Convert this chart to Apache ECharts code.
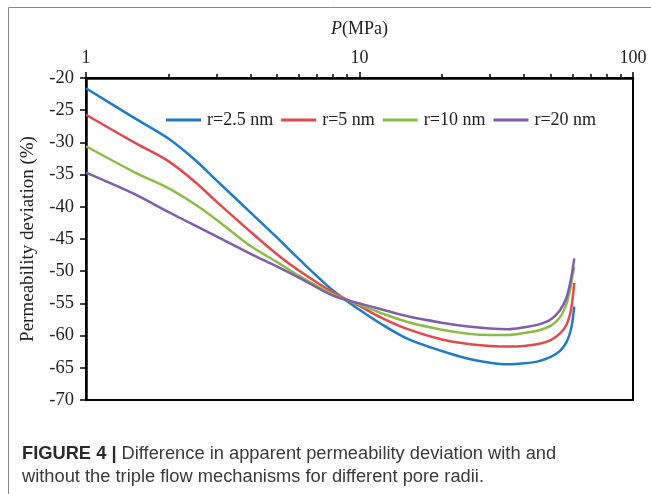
<!DOCTYPE html>
<html>
<head>
<meta charset="utf-8">
<script src="https://cdn.jsdelivr.net/npm/echarts@6/dist/echarts.min.js"></script>
<style>html,body{margin:0;padding:0;background:#fff}#c{width:651px;height:494px}</style>
</head>
<body>
<div id="c"></div>
<script>
// Pressure (MPa)
const pressure = [1, 1.5, 2, 2.5, 3, 4, 5, 6, 8, 10, 12, 15, 20, 25, 30, 35, 40, 45, 50, 54, 57, 59, 60, 61];
const r25 = [-21.6, -26.2, -29.4, -32.7, -35.9, -40.9, -44.8, -48.1, -53.0, -56.0, -58.2, -60.5, -62.4, -63.6, -64.2, -64.45, -64.3, -64.0, -63.3, -62.4, -61.1, -59.4, -57.9, -55.5];
const r5 = [-25.7, -30.0, -32.9, -36.1, -39.2, -43.9, -47.4, -49.9, -53.3, -55.4, -57.2, -59.0, -60.6, -61.3, -61.6, -61.7, -61.6, -61.3, -60.7, -59.7, -58.4, -56.5, -54.6, -51.8];
const r10 = [-30.6, -34.6, -37.1, -39.6, -42.0, -46.1, -48.6, -50.7, -53.6, -55.2, -56.5, -57.9, -59.1, -59.7, -59.9, -59.9, -59.6, -59.2, -58.5, -57.2, -55.2, -52.8, -50.9, -49.3];
const r20 = [-34.7, -38.0, -40.8, -42.9, -44.6, -47.3, -49.3, -51.0, -53.8, -55.0, -55.9, -57.0, -58.0, -58.6, -58.9, -59.0, -58.7, -58.3, -57.5, -56.1, -54.2, -51.7, -50.0, -48.0];
const seriesNames = ['r=2.5 nm', 'r=5 nm', 'r=10 nm', 'r=20 nm'];
const seriesData = [r25, r5, r10, r20];
const colors = ['#1f7bc4', '#e04a4c', '#8abd47', '#7f5fa9'];
const majorTicks = [1, 10, 100];
const minorTicks = [2, 3, 4, 5, 6, 7, 8, 9, 20, 30, 40, 50, 60, 70, 80, 90];
const yTicks = [-70, -20, 5];

const serif = '"Liberation Serif", "Times New Roman", serif';
const sans = '"Liberation Sans", Arial, sans-serif';
const chart = echarts.init(document.getElementById('c'), null, {renderer: 'canvas'});

const series = seriesData.map((d, i) => ({
  name: seriesNames[i],
  type: 'line',
  data: pressure.map((p, k) => [p, d[k]]),
  smooth: 0.3,
  symbol: 'none',
  lineStyle: {color: colors[i], width: 2.5},
  itemStyle: {color: colors[i]},
  z: 3
}));

chart.setOption({
  animation: false,
  backgroundColor: '#fff',
  grid: {left: 86, top: 78, right: 18, bottom: 94, show: true, borderColor: '#000', borderWidth: 2, backgroundColor: 'transparent'},
  legend: {
    data: seriesNames.map(n => ({name: n, icon: 'rect'})),
    left: 161, top: 106,
    itemWidth: 35, itemHeight: 3, itemGap: 8,
    textStyle: {fontFamily: serif, fontSize: 18, color: '#222', padding: [0, 0, 0, 1]}
  },
  xAxis: [{
    type: 'log', logBase: 10, min: 1, max: 100, position: 'top',
    name: '{i|P}(MPa)', nameLocation: 'middle', nameGap: 40,
    nameTextStyle: {fontFamily: serif, fontSize: 18, color: '#222', rich: {i: {fontFamily: serif, fontStyle: 'italic', fontSize: 18, color: '#222'}}},
    axisLine: {show: true, lineStyle: {color: '#000', width: 2.5}},
    axisTick: {show: true, inside: false, length: 6, lineStyle: {color: '#000', width: 1.5}, customValues: majorTicks},
    axisLabel: {fontFamily: serif, fontSize: 18, color: '#222', margin: 11, customValues: majorTicks},
    splitLine: {show: false}, minorTick: {show: false}
  }, {
    type: 'log', logBase: 10, min: 1, max: 100, position: 'top',
    axisLine: {show: false},
    axisTick: {show: true, inside: false, length: 4, lineStyle: {color: '#000', width: 1.5}, customValues: minorTicks},
    axisLabel: {show: false},
    splitLine: {show: false}
  }],
  yAxis: {
    type: 'value', min: yTicks[0], max: yTicks[1], interval: yTicks[2],
    name: 'Permeability deviation (%)', nameLocation: 'middle', nameGap: 48,
    nameTextStyle: {fontFamily: serif, fontSize: 19, color: '#222'},
    axisLine: {show: true, onZero: false, lineStyle: {color: '#000', width: 2.5}},
    axisTick: {show: true, inside: false, length: 6, lineStyle: {color: '#000', width: 1.5}},
    axisLabel: {fontFamily: serif, fontSize: 18.5, color: '#222', margin: 12},
    splitLine: {show: false}
  },
  series: series,
  graphic: [
    {type: 'rect', shape: {x: 8.5, y: 7.5, width: 800, height: 700}, style: {fill: 'none', stroke: '#8a8a8a', lineWidth: 1}, silent: true},
    {type: 'text', left: 22, top: 442, style: {
      text: '{b|FIGURE 4 |} Difference in apparent permeability deviation with and\nwithout the triple flow mechanisms for different pore radii.',
      font: '18.3px "Liberation Sans", Arial, sans-serif', fill: '#3a3a3a', lineHeight: 23,
      rich: {b: {fontWeight: 'bold', fontFamily: sans, fontSize: 18.3, fill: '#2a2a2a'}}
    }}
  ]
});
</script>
</body>
</html>
